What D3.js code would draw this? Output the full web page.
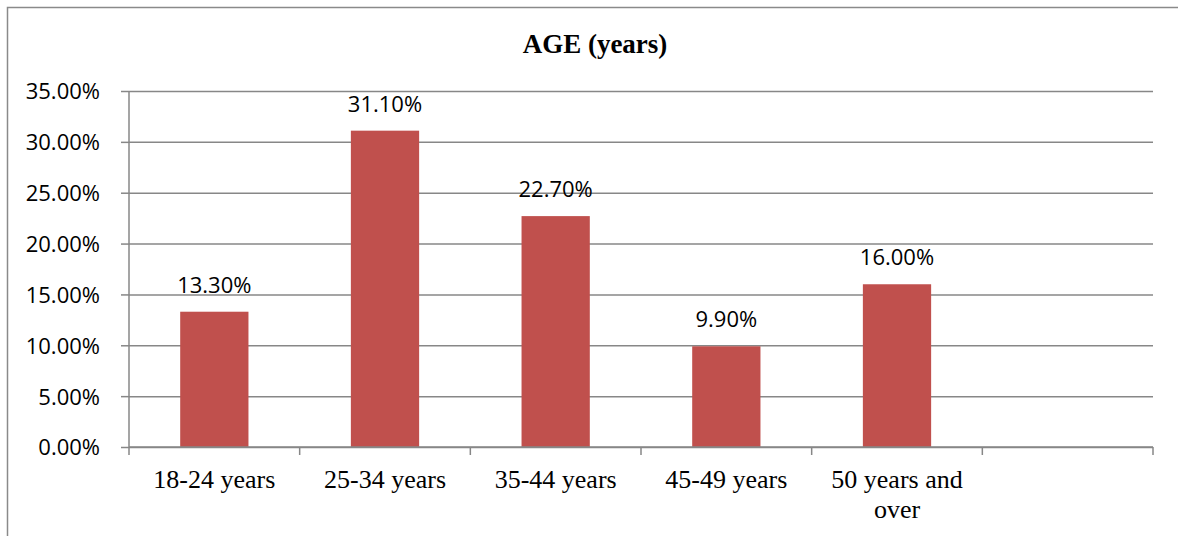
<!DOCTYPE html>
<html><head><meta charset="utf-8">
<script src="https://cdn.jsdelivr.net/npm/d3@7"></script>
<style>html,body{margin:0;padding:0;background:#fff;}svg{display:block;}</style>
</head><body>
<svg id="c" width="1178" height="536"></svg>
<script>
const title = "AGE (years)";
const categories = ["18-24 years", "25-34 years", "35-44 years", "45-49 years", "50 years and over", ""];
const values = [13.3, 31.1, 22.7, 9.9, 16.0];
const yTicks = [0, 5, 10, 15, 20, 25, 30, 35];

const svg = d3.select("#c");
const W = 1178, H = 536;
const m = {left: 129, right: 1153, top: 91, bottom: 447};
const gridColor = "#878787";
const numFont = "'Open Sans', sans-serif";
const serif = "'Liberation Serif', 'Times New Roman', serif";

svg.append("rect").attr("width", W).attr("height", H).attr("fill", "#fff");
// outer frame
svg.append("rect").attr("x", 7.5).attr("y", 7.5).attr("width", 1300).attr("height", 700)
  .attr("fill", "none").attr("stroke", "#8a8a8a").attr("stroke-width", 1.5);

svg.append("text").attr("x", 595).attr("y", 53).attr("text-anchor", "middle")
  .attr("font-family", serif).attr("font-weight", "bold").attr("font-size", 27).text(title);

const x = d3.scaleBand().domain(categories.map((c, i) => i)).range([m.left, m.right])
  .paddingInner(0.6).paddingOuter(0.3);
const y = d3.scaleLinear().domain([0, 35]).range([m.bottom, m.top]);

// gridlines + y axis
const yAxis = d3.axisLeft(y).tickValues(yTicks).tickSize(8).tickPadding(21)
  .tickFormat(d => d3.format(".2f")(d) + "%");
const gy = svg.append("g").attr("transform", `translate(${m.left},0)`).call(yAxis);
gy.select(".domain").remove();
gy.selectAll(".tick line").attr("stroke", gridColor).attr("stroke-width", 1.5);
gy.selectAll(".tick").append("line").attr("x1", 0).attr("x2", m.right - m.left)
  .attr("stroke", gridColor).attr("stroke-width", 1.5);
gy.selectAll(".tick text").attr("font-family", numFont).attr("font-size", 22)
  .attr("fill", "#000").attr("dy", "0.36em");
svg.append("line").attr("x1", m.left).attr("x2", m.left).attr("y1", m.top).attr("y2", m.bottom)
  .attr("stroke", gridColor).attr("stroke-width", 1.5);

// bars
svg.selectAll("rect.bar").data(values).join("rect").attr("class", "bar")
  .attr("x", (d, i) => x(i)).attr("width", x.bandwidth())
  .attr("y", d => y(d)).attr("height", d => y(0) - y(d)).attr("fill", "#C0504D");

// value labels
svg.selectAll("text.val").data(values).join("text").attr("class", "val")
  .attr("x", (d, i) => x(i) + x.bandwidth() / 2).attr("y", d => y(d) - 19)
  .attr("text-anchor", "middle").attr("font-family", numFont).attr("font-size", 22)
  .text(d => d3.format(".2f")(d) + "%");

// x axis
const bounds = d3.range(categories.length + 1).map(i => m.left + i * x.step());
svg.append("line").attr("x1", m.left).attr("x2", m.right).attr("y1", m.bottom).attr("y2", m.bottom)
  .attr("stroke", gridColor).attr("stroke-width", 1.5);
svg.selectAll("line.xt").data(bounds).join("line").attr("class", "xt")
  .attr("x1", d => d).attr("x2", d => d).attr("y1", m.bottom).attr("y2", m.bottom + 8)
  .attr("stroke", gridColor).attr("stroke-width", 1.5);

const wrapped = {"50 years and over": ["50 years and", "over"]};
categories.forEach((c, i) => {
  if (!c) return;
  const lines = wrapped[c] || [c];
  const t = svg.append("text").attr("x", x(i) + x.bandwidth() / 2).attr("y", 488)
    .attr("text-anchor", "middle").attr("font-family", serif).attr("font-size", 26);
  lines.forEach((l, k) => t.append("tspan").attr("x", x(i) + x.bandwidth() / 2)
    .attr("dy", k === 0 ? 0 : 30).text(l));
});
</script>
</body></html>
